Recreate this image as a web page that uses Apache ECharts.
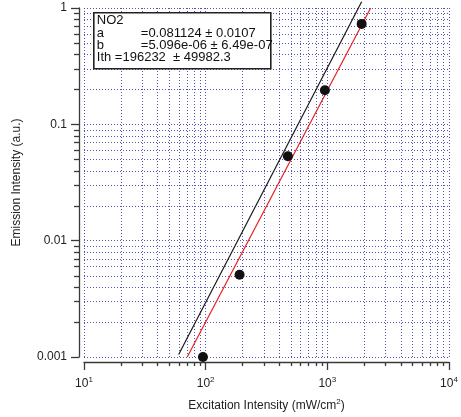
<!DOCTYPE html>
<html>
<head>
<meta charset="utf-8">
<script src="https://cdn.jsdelivr.net/npm/echarts@6/dist/echarts.min.js"></script>
<style>html,body{margin:0;padding:0;background:#fff}#c{width:461px;height:417px}</style>
</head>
<body>
<div id="c"></div>
<script>
// ---- data ----
const pointsX = [95, 190, 474, 955, 1914];
const pointsY = [0.001, 0.0051, 0.0532, 0.196, 0.73];
const blackLineX = [60, 1914];
const blackLineY = [0.00105, 1.13];
const redLineX = [70.6, 2270];
const redLineY = [0.001, 1.0];
const xMinorTicks = [20,30,40,50,60,70,80,90,200,300,400,500,600,700,800,900,2000,3000,4000,5000,6000,7000,8000,9000];
const yMinorTicks = [0.002,0.003,0.004,0.005,0.006,0.007,0.008,0.009,0.02,0.03,0.04,0.05,0.06,0.07,0.08,0.09,0.2,0.3,0.4,0.5,0.6,0.7,0.8,0.9];
const yTickLabels = {1:'1', 0.1:'0.1', 0.01:'0.01', 0.001:'0.001'};
const fitLines = ['NO2', 'a', '=0.081124 \u00b1 0.0107', 'b', '=5.096e-06 \u00b1 6.49e-07', 'Ith =196232  \u00b1 49982.3'];

const FONT = '"Liberation Sans", Arial, Helvetica, sans-serif';
const GRID = '#5252b5';
const AXIS = '#3a3a3a';
const OFF = 5;

const chart = echarts.init(document.getElementById('c'), null, {renderer: 'canvas'});

function pairs(xs, ys) { return xs.map((x, i) => [x, ys[i]]); }

function boxText(x, y, t) {
  return {type: 'text', x: x, y: y, z: 101,
    style: {text: t, fontSize: 13, fontFamily: FONT, fill: '#111'}};
}

const option = {
  animation: false,
  backgroundColor: '#fff',
  textStyle: {fontFamily: FONT},
  grid: {left: 84, right: 12, top: 8, bottom: 58, containLabel: false},
  xAxis: {
    type: 'log', min: 10, max: 10000, logBase: 10, offset: OFF,
    name: 'Excitation Intensity (mW/cm{s|2})',
    nameLocation: 'middle', nameGap: 36,
    nameTextStyle: {fontFamily: FONT, fontSize: 12, color: '#222',
      rich: {s: {fontSize: 8, fontFamily: FONT, color: '#222', padding: [0, 0, 8, 0]}}},
    axisLine: {show: true, lineStyle: {color: AXIS, width: 1.3}},
    axisTick: {show: true, inside: false, length: 8, lineStyle: {color: AXIS, width: 1.3}},
    axisLabel: {
      margin: 14, color: '#222', fontSize: 12, fontFamily: FONT,
      formatter: v => '{b|10}{s|' + Math.round(Math.log10(v)) + '}',
      rich: {b: {fontSize: 12, fontFamily: FONT, color: '#222'},
             s: {fontSize: 8, fontFamily: FONT, color: '#222', padding: [0, 0, 8, 0]}}
    },
    splitLine: {show: true, lineStyle: {color: GRID, width: 1, type: [1, 2]}}
  },
  yAxis: {
    type: 'log', min: 0.001, max: 1, logBase: 10, offset: OFF,
    name: 'Emission Intensity (a.u.)',
    nameLocation: 'middle', nameGap: 56, nameRotate: 90,
    nameTextStyle: {fontFamily: FONT, fontSize: 12, color: '#222'},
    axisLine: {show: true, lineStyle: {color: AXIS, width: 1.3}},
    axisTick: {show: true, inside: false, length: 8, lineStyle: {color: AXIS, width: 1.3}},
    axisLabel: {
      margin: 12, color: '#222', fontSize: 12, fontFamily: FONT,
      formatter: v => {
        const k = Math.round(Math.log10(v));
        return yTickLabels[Math.pow(10, k)] || String(Number(v.toPrecision(3)));
      }
    },
    splitLine: {show: true, lineStyle: {color: GRID, width: 1, type: [1, 2]}}
  },
  series: [
    {
      type: 'custom', name: 'xminor', silent: true, clip: false, z: 1,
      data: xMinorTicks.map(v => [v, 0.1]),
      encode: {x: 0, y: 1},
      renderItem: (params, api) => {
        const cs = params.coordSys;
        const px = Math.round(api.coord([api.value(0), 0.1])[0]) + 0.5;
        const yb = cs.y + cs.height;
        return {type: 'group', children: [
          {type: 'line', shape: {x1: px, y1: cs.y, x2: px, y2: yb},
           style: {stroke: GRID, lineWidth: 1, lineDash: [1, 2]}},
          {type: 'line', shape: {x1: px, y1: yb + OFF, x2: px, y2: yb + OFF + 4},
           style: {stroke: AXIS, lineWidth: 1.3}}
        ]};
      }
    },
    {
      type: 'custom', name: 'yminor', silent: true, clip: false, z: 1,
      data: yMinorTicks.map(v => [100, v]),
      encode: {x: 0, y: 1},
      renderItem: (params, api) => {
        const cs = params.coordSys;
        const py = Math.round(api.coord([100, api.value(1)])[1]) + 0.5;
        return {type: 'group', children: [
          {type: 'line', shape: {x1: cs.x, y1: py, x2: cs.x + cs.width, y2: py},
           style: {stroke: GRID, lineWidth: 1, lineDash: [1, 2]}},
          {type: 'line', shape: {x1: cs.x - OFF, y1: py, x2: cs.x - OFF - 5, y2: py},
           style: {stroke: AXIS, lineWidth: 1.3}}
        ]};
      }
    },
    {
      type: 'line', name: 'black', data: pairs(blackLineX, blackLineY),
      showSymbol: false, symbol: 'none', clip: false, z: 3,
      lineStyle: {color: '#1a1a1a', width: 1.2}
    },
    {
      type: 'line', name: 'red', data: pairs(redLineX, redLineY),
      showSymbol: false, symbol: 'none', clip: false, z: 3,
      lineStyle: {color: '#e82020', width: 1.2}
    },
    {
      type: 'scatter', name: 'NO2', data: pairs(pointsX, pointsY),
      symbol: 'circle', symbolSize: 10, clip: false, z: 4,
      itemStyle: {color: '#111', opacity: 1}
    }
  ],
  graphic: {
    elements: [
      {type: 'group', left: 93, top: 12, z: 100, silent: true,
       children: [
         {type: 'rect', z: 100, shape: {x: 0, y: 0, width: 177, height: 56},
          style: {fill: '#ffffff', stroke: '#222', lineWidth: 1.6}},
         boxText(3, 1, fitLines[0]),
         boxText(3, 14, fitLines[1]),
         boxText(47, 14, fitLines[2]),
         boxText(3, 26, fitLines[3]),
         boxText(47, 26, fitLines[4]),
         boxText(3, 38, fitLines[5])
       ]}
    ]
  }
};
chart.setOption(option);
</script>
</body>
</html>
